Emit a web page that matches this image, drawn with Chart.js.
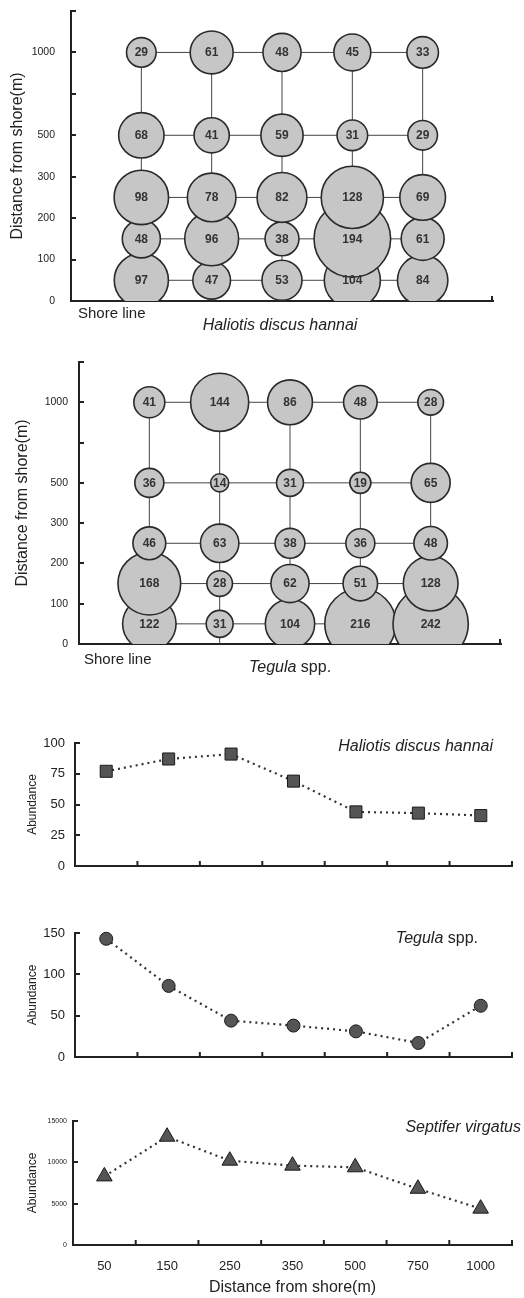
<!DOCTYPE html>
<html><head><meta charset="utf-8">
<script src="https://cdn.jsdelivr.net/npm/chart.js@4.4.0/dist/chart.umd.min.js"></script>
<style>
html,body{margin:0;padding:0;background:#fff;}
#wrap{position:relative;width:524px;height:1298px;overflow:hidden;font-family:"Liberation Sans",Arial,sans-serif;color:#222;}
canvas{position:absolute;left:0;}
.t{position:absolute;white-space:nowrap;line-height:1;}
.c{transform:translate(-50%,-50%);}
.r{transform:translateY(-50%);}
</style></head><body>
<div id="wrap">
<canvas id="c1" width="524" height="335" style="top:0px"></canvas>
<canvas id="c2" width="524" height="340" style="top:340px"></canvas>
<canvas id="c3" width="524" height="180" style="top:700px"></canvas>
<canvas id="c4" width="524" height="180" style="top:890px"></canvas>
<canvas id="c5" width="524" height="218" style="top:1080px"></canvas>
<div class="t" style="left:78px;top:305px;font-size:15px">Shore line</div>
<div class="t c" style="left:280px;top:325px;font-size:16px;font-style:italic">Haliotis discus hannai</div>
<div class="t" style="left:84px;top:651px;font-size:15px">Shore line</div>
<div class="t c" style="left:290px;top:667px;font-size:16px"><i>Tegula</i> spp.</div>
<div class="t r" style="right:31px;top:746px;font-size:16px;font-style:italic">Haliotis discus hannai</div>
<div class="t r" style="right:46px;top:938px;font-size:16px"><i>Tegula</i> spp.</div>
<div class="t r" style="right:3px;top:1127px;font-size:16px;font-style:italic">Septifer virgatus</div>
</div>
<script>
// ---- data ----
const stations = [1, 2, 3, 4, 5];                 // transects along the shore (unlabelled)
const rowDistances = [1000, 500, 250, 150, 50];    // distance from shore (m) of each grid row
const axisBreaks = [0, 100, 200, 300, 500, 750, 1000];
const yTickLabels = ['0', '100', '200', '300', '500', '', '1000'];
const haliotisGrid = [
  [29, 61, 48, 45, 33],
  [68, 41, 59, 31, 29],
  [98, 78, 82, 128, 69],
  [48, 96, 38, 194, 61],
  [97, 47, 53, 104, 84]
];
const tegulaGrid = [
  [41, 144, 86, 48, 28],
  [36, 14, 31, 19, 65],
  [46, 63, 38, 36, 48],
  [168, 28, 62, 51, 128],
  [122, 31, 104, 216, 242]
];
const distanceLabels = ['50', '150', '250', '350', '500', '750', '1000'];
const haliotisAbundance = [77, 87, 91, 69, 44, 43, 41];
const tegulaAbundance = [143, 86, 44, 38, 31, 17, 62];
const septiferAbundance = [8300, 13100, 10200, 9600, 9400, 6800, 4400];

// ---- helpers ----
Chart.defaults.font.family = '"Liberation Sans", Arial, sans-serif';
Chart.defaults.color = '#222';
const INK = '#222';

function toAxis(d) {
  for (let i = 0; i < axisBreaks.length - 1; i++) {
    if (d <= axisBreaks[i + 1]) return i + (d - axisBreaks[i]) / (axisBreaks[i + 1] - axisBreaks[i]);
  }
  return axisBreaks.length - 1;
}

function fixSize(prop, val) {
  return s => { s[prop] = val; s.paddingTop = 0; s.paddingBottom = 0; s.paddingLeft = 0; s.paddingRight = 0; };
}

const axisTicks = {
  id: 'axisTicks',
  afterDraw(chart, args, opts) {
    const {ctx, chartArea: a, scales: {x, y}} = chart;
    ctx.save();
    ctx.strokeStyle = INK; ctx.lineWidth = 2;
    y.ticks.forEach(t => {
      const py = Math.round(y.getPixelForValue(t.value));
      ctx.beginPath(); ctx.moveTo(a.left, py); ctx.lineTo(a.left + 5, py); ctx.stroke();
    });
    const xs = opts.mode === 'category'
      ? x.ticks.map((t, i) => x.getPixelForValue(i + 0.5))
      : [a.right - 1];
    xs.forEach(px => {
      ctx.beginPath(); ctx.moveTo(px, a.bottom); ctx.lineTo(px, a.bottom - 5); ctx.stroke();
    });
    ctx.restore();
  }
};

const bubbleLabels = {
  id: 'bubbleLabels',
  afterDatasetsDraw(chart) {
    const ctx = chart.ctx;
    ctx.save();
    ctx.font = 'bold 12px "Liberation Sans", Arial, sans-serif';
    ctx.fillStyle = '#333'; ctx.textAlign = 'center'; ctx.textBaseline = 'middle';
    chart.data.datasets.forEach((ds, di) => {
      const meta = chart.getDatasetMeta(di);
      if (meta.type !== 'bubble') return;
      meta.data.forEach((el, i) => ctx.fillText(String(ds.data[i].v), el.x, el.y + 0.5));
    });
    ctx.restore();
  }
};

function gridChart(id, grid, K, g) {
  const bubbles = [];
  for (let ri = grid.length - 1; ri >= 0; ri--) {
    grid[ri].forEach((v, ci) => bubbles.push({x: stations[ci], y: toAxis(rowDistances[ri]), v}));
  }
  const lineStyle = {type: 'line', borderColor: '#444', borderWidth: 1, pointRadius: 0, order: 2, clip: 0};
  const sets = [{
    type: 'bubble', data: bubbles, order: 0, clip: 0,
    radius: ctx => K * Math.sqrt(ctx.raw.v),
    backgroundColor: '#c6c6c6', borderColor: '#2a2a2a', borderWidth: 1.6
  }];
  rowDistances.forEach(d => sets.push(Object.assign({
    data: stations.map(s => ({x: s, y: toAxis(d)}))
  }, lineStyle)));
  stations.forEach(s => sets.push(Object.assign({
    data: [{x: s, y: 0}, {x: s, y: toAxis(rowDistances[0])}]
  }, lineStyle)));
  return new Chart(document.getElementById(id), {
    type: 'bubble',
    data: {datasets: sets},
    plugins: [bubbleLabels, axisTicks],
    options: {
      responsive: false, animation: false, events: [],
      layout: {autoPadding: false, padding: {left: 0, top: g.top, right: 524 - g.right, bottom: 0}},
      plugins: {legend: {display: false}, tooltip: {enabled: false}, axisTicks: {mode: 'linear'}},
      scales: {
        x: {
          type: 'linear', min: 0, max: stations.length + 1, z: 1,
          ticks: {display: false}, grid: {display: false, drawTicks: false},
          border: {display: true, color: INK, width: 2},
          afterFit: fixSize('height', g.xh)
        },
        y: {
          type: 'linear', min: 0, max: axisBreaks.length, z: 1,
          ticks: {stepSize: 1, autoSkip: false, padding: g.tp, font: {size: 10.5},
                  callback: v => yTickLabels[v] ?? ''},
          grid: {display: false, drawTicks: false},
          border: {display: true, color: INK, width: 2},
          title: {display: true, text: 'Distance from shore(m)', font: {size: 16}, padding: {top: g.ttp, bottom: 0}},
          afterFit: fixSize('width', g.left)
        }
      }
    }
  });
}

function lineChart(id, values, yMax, yStep, marker, g) {
  return new Chart(document.getElementById(id), {
    type: 'line',
    data: {
      labels: distanceLabels,
      datasets: [{
        data: values, borderColor: '#333', borderWidth: 2.2, borderDash: [2, 4],
        tension: 0, clip: false,
        pointStyle: marker.style, pointRadius: marker.r,
        pointBackgroundColor: '#555', pointBorderColor: '#1a1a1a', pointBorderWidth: 1
      }]
    },
    plugins: [axisTicks],
    options: {
      responsive: false, animation: false, events: [],
      layout: {autoPadding: false, padding: {left: 0, top: g.top, right: 524 - g.right, bottom: 0}},
      plugins: {legend: {display: false}, tooltip: {enabled: false}, axisTicks: {mode: 'category'}},
      scales: {
        x: {
          type: 'category', offset: true, z: 1,
          ticks: {display: !!g.showX, padding: g.xtp || 0, font: {size: 13}, maxRotation: 0, autoSkip: false},
          grid: {display: false, drawTicks: false, offset: true},
          border: {display: true, color: INK, width: 2},
          title: {display: !!g.showX, text: 'Distance from shore(m)', font: {size: 16}, padding: {top: 0, bottom: 0.5}},
          afterFit: fixSize('height', g.xh)
        },
        y: {
          min: 0, max: yMax, z: 1,
          ticks: {stepSize: yStep, padding: g.tp, font: {size: g.tf}, callback: v => String(v)},
          grid: {display: false, drawTicks: false},
          border: {display: true, color: INK, width: 2},
          title: {display: true, text: 'Abundance', font: {size: 12}, padding: {top: g.ttp, bottom: 0}},
          afterFit: fixSize('width', g.left)
        }
      }
    }
  });
}

gridChart('c1', haliotisGrid, 2.75, {left: 71, right: 493, top: 11, xh: 34, tp: 16, ttp: 8.4});
gridChart('c2', tegulaGrid, 2.42, {left: 79, right: 501, top: 22, xh: 36, tp: 11, ttp: 13.4});
lineChart('c3', haliotisAbundance, 100, 25, {style: 'rect', r: 8.5},
  {left: 75, right: 512, top: 43, xh: 14, tp: 10, tf: 13, ttp: 25.3});
lineChart('c4', tegulaAbundance, 150, 50, {style: 'circle', r: 6.5},
  {left: 75, right: 512, top: 43, xh: 13, tp: 10, tf: 13, ttp: 25.3});
lineChart('c5', septiferAbundance, 15000, 5000, {style: 'triangle', r: 9},
  {left: 73, right: 512, top: 41, xh: 53, tp: 6, tf: 7, ttp: 25.8, showX: true, xtp: 14});
</script>
</body></html>
